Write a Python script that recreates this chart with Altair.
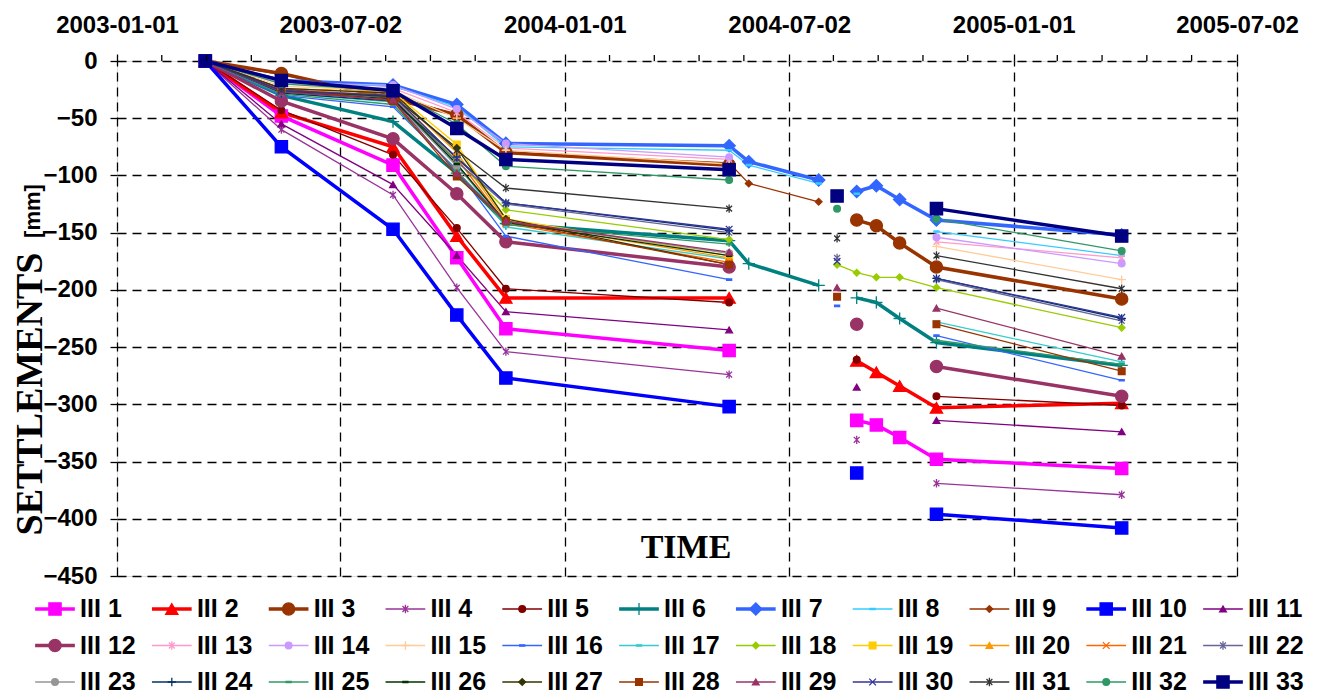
import altair as alt
import pandas as pd

N = None
# measurement dates
DATES = ["2003-03-14", "2003-05-15", "2003-08-14", "2003-10-05", "2003-11-14",
         "2004-05-14", "2004-05-30", "2004-07-26", "2004-08-10", "2004-08-26",
         "2004-09-11", "2004-09-30", "2004-10-30", "2005-03-30"]

III1 = [0, -48, -91, -172, -234, -253, N, N, N, -314, -318, -329, -348, -356]
III2 = [0, -45, -75, -153, -207, -207, N, N, N, -262, -272, -284, -303, -299]
III3 = [0, -11, -33, -47, -80, -91, N, N, N, -139, -144, -159, -180, -208]
III4 = [0, -60, -117, -198, -254, -274, N, N, N, -331, N, N, -369, -379]
III5 = [0, -43, -82, -146, -199, -211, N, N, N, -261, N, N, -293, -301]
III6 = [0, -30, -53, -98, -142, -157, -177, -196, N, -207, -211, -225, -246, -266]
III7 = [0, -17, -21, -38, -72, -74, -88, -104, N, -114, -109, -121, -139, -152]
III8 = [0, -19, -22, -40, -75, -78, -91, -107, N, -116, N, N, -149, -170]
III9 = [0, -12, -30, -47, -80, -89, -107, -123, N, N, N, N, N, N]
III10 = [0, -75, -147, -222, -277, -302, N, N, N, -360, N, N, -396, -408]
III11 = [0, -55, -108, -170, -219, -235, N, N, N, -285, N, N, -314, -324]
III12 = [0, -35, -68, -116, -158, -180, N, N, N, -230, N, N, -267, -293]
III13 = [0, -20, -24, -45, -76, -86, N, N, N, N, N, N, -158, -172]
III14 = [0, -19, -21, -42, -72, -84, N, N, N, N, N, N, -154, -177]
III15 = [0, -22, -26, -50, -78, -90, N, N, N, N, N, N, -162, -191]
III16 = [0, -30, -40, -95, -153, -191, N, N, -214, N, N, N, -240, -279]
III17 = [0, -28, -36, -90, -145, -173, N, N, N, N, N, N, -228, -263]
III18 = [0, -25, -30, -87, -130, -156, N, N, -178, -185, -189, -189, -198, -233]
III19 = [0, -24, -27, -73, -138, -170, N, N, N, N, N, N, N, N]
III20 = [0, -24, -28, -80, -140, -172, N, N, N, N, N, N, N, N]
III21 = [0, -25, -30, -85, -142, -176, N, N, N, N, N, N, N, N]
III22 = [0, -26, -32, -88, -125, -150, N, N, -172, N, N, N, -191, -227]
III23 = [0, -27, -34, -92, -140, -168, N, N, N, N, N, N, N, N]
III24 = [0, -28, -35, -84, -124, -148, N, N, N, N, N, N, -190, -225]
III25 = [0, -29, -38, -96, -143, -160, N, N, N, N, N, N, -244, -265]
III26 = [0, -27, -33, -90, -141, -170, N, N, N, N, N, N, N, N]
III27 = [0, -26, -31, -76, -138, -178, N, N, N, N, N, N, N, N]
III28 = [0, -24, -35, -101, -140, -178, N, N, -206, N, N, N, -230, -271]
III29 = [0, -27, -34, -98, -140, -167, N, N, -198, N, N, N, -216, -258]
III30 = [0, -26, -30, -85, -124, -147, N, N, -175, N, N, N, -190, -224]
III31 = [0, -24, -28, -78, -111, -129, N, N, -155, N, N, N, -170, -199]
III32 = [0, -20, -26, -55, -92, -104, N, N, -129, N, N, N, -138, -166]
III33 = [0, -17, -26, -59, -86, -95, N, N, -118, N, N, N, -129, -153]

SERIES = [III1, III2, III3, III4, III5, III6, III7, III8, III9, III10, III11,
          III12, III13, III14, III15, III16, III17, III18, III19, III20, III21, III22,
          III23, III24, III25, III26, III27, III28, III29, III30, III31, III32, III33]
NAMES = [f"III {i}" for i in range(1, 34)]

COLORS = ["#FF00FF", "#FF0000", "#993300", "#993399", "#800000", "#008080", "#3366FF",
          "#33CCFF", "#993300", "#0000FF", "#800080", "#993366", "#FF99CC", "#CC99FF",
          "#FFCC99", "#3366FF", "#33CCCC", "#99CC00", "#FFCC00", "#FF9900", "#FF6600",
          "#666699", "#969696", "#003366", "#339966", "#003300", "#333300", "#993300",
          "#993366", "#333399", "#333333", "#2E9966", "#000080"]

SQ = "square"; TR = "triangle-up"; CI = "circle"; DI = "diamond"
AST = "M-0.7,-0.7L0.7,0.7M-0.7,0.7L0.7,-0.7M0,-1L0,1"
XX = "M-0.8,-0.8L0.8,0.8M-0.8,0.8L0.8,-0.8"
PL = "M-1,0L1,0M0,-1L0,1"
DA = "M-0.75,-0.2L0.75,-0.2L0.75,0.2L-0.75,0.2Z"
SHAPES = [SQ, TR, CI, AST, CI, PL, DI, DA, DI, SQ, TR, CI, AST, CI, PL, DA, DA, DI,
          SQ, TR, XX, AST, CI, PL, DA, DA, DI, SQ, TR, XX, AST, CI, SQ]
THICK = {"III 1", "III 2", "III 3", "III 6", "III 7", "III 10", "III 12", "III 33"}


def marker_size(name, shp):
    if name in THICK:
        return 150
    return 70 if shp in (AST, XX, PL) else 45


rows = []
for i, (name, vals) in enumerate(zip(NAMES, SERIES)):
    seg, prev = 0, None
    for j, v in enumerate(vals):
        if v is None:
            continue
        if prev is not None and j - prev > 1:
            seg += 1
        prev = j
        rows.append({"series": name, "key": f"{i:02d}-{seg}", "date": pd.Timestamp(DATES[j]),
                     "value": v, "lw": 3.5 if name in THICK else 1.3,
                     "msize": marker_size(name, SHAPES[i])})
df = pd.DataFrame(rows)

leg = []
for i, name in enumerate(NAMES):
    leg.append({"series": name, "col": i % 11, "row": i // 11,
                "lx0": i % 11 - 0.17, "lx1": i % 11 + 0.17, "ltx": i % 11 + 0.215,
                "lw": 3.5 if name in THICK else 1.3,
                "msize": marker_size(name, SHAPES[i])})
dleg = pd.DataFrame(leg)

start = pd.Timestamp("2003-01-01")
minor = pd.DataFrame({"date": [start + pd.Timedelta(days=36.5 * k) for k in range(1, 25) if k % 5]})

TICKS = [alt.DateTime(year=2003, month=1, date=1), alt.DateTime(year=2003, month=7, date=2),
         alt.DateTime(year=2004, month=1, date=1), alt.DateTime(year=2004, month=7, date=2),
         alt.DateTime(year=2005, month=1, date=1), alt.DateTime(year=2005, month=7, date=2)]

xscale = alt.Scale(domain=[TICKS[0], TICKS[-1]])
yscale = alt.Scale(domain=[-450, 0], nice=False, zero=False)
cscale = alt.Scale(domain=NAMES, range=COLORS)
sscale = alt.Scale(domain=NAMES, range=SHAPES)

FONT = "Liberation Sans"
xaxis = alt.Axis(orient="top", values=TICKS, format="%Y-%m-%d", title=None,
                 labelFont=FONT, labelFontWeight="bold", labelFontSize=24, labelColor="black",
                 labelBaseline="alphabetic", labelPadding=22, labelFlush=False, labelOverlap=False,
                 tickColor="black", tickSize=7, tickWidth=1.3, domain=False,
                 grid=True, gridColor="black", gridDash=[9, 6], gridWidth=1.3)
yaxis = alt.Axis(values=list(range(-450, 1, 50)), title=None,
                 labelFont=FONT, labelFontWeight="bold", labelFontSize=24, labelColor="black",
                 labelPadding=13, tickColor="black", tickSize=7, tickWidth=1.3, domain=False,
                 grid=True, gridColor="black", gridDash=[9, 6], gridWidth=1.3)

lines = alt.Chart(df).mark_line().encode(
    x=alt.X("date:T", scale=xscale, axis=xaxis),
    y=alt.Y("value:Q", scale=yscale, axis=yaxis),
    detail="key:N",
    stroke=alt.Stroke("series:N", scale=cscale, legend=None),
    strokeWidth=alt.StrokeWidth("lw:Q", scale=None),
)
points = alt.Chart(df).mark_point(filled=True, opacity=1, strokeWidth=1.3).encode(
    x=alt.X("date:T", scale=xscale),
    y=alt.Y("value:Q", scale=yscale),
    fill=alt.Fill("series:N", scale=cscale, legend=None),
    stroke=alt.Stroke("series:N", scale=cscale, legend=None),
    shape=alt.Shape("series:N", scale=sscale, legend=None),
    size=alt.Size("msize:Q", scale=None),
)
minor_ticks = alt.Chart(minor).mark_rule(color="black", strokeWidth=1.3).encode(
    x=alt.X("date:T", scale=xscale), y=alt.value(-6), y2=alt.value(0))

ytitle = alt.Chart(pd.DataFrame({"t": ["SETTLEMENTS"]})).mark_text(
    angle=270, font="Liberation Serif", fontWeight="bold", fontSize=38, color="black",
    align="center", baseline="middle").encode(x=alt.value(-86), y=alt.value(333), text="t:N")
ytitle2 = alt.Chart(pd.DataFrame({"t": ["[mm]"]})).mark_text(
    angle=270, font=FONT, fontWeight="bold", fontSize=22, color="black",
    align="center", baseline="middle").encode(x=alt.value(-84), y=alt.value(150), text="t:N")
xtitle = alt.Chart(pd.DataFrame({"t": ["TIME"]})).mark_text(
    font="Liberation Serif", fontWeight="bold", fontSize=34, color="black",
    align="center", baseline="middle").encode(x=alt.value(569), y=alt.value(487), text="t:N")

main = alt.layer(lines, points, minor_ticks, ytitle, ytitle2, xtitle)

lxs = alt.Scale(domain=[0, 10], range=[-62, 1106], nice=False, zero=False)
lys = alt.Scale(domain=[0, 2], range=[548, 621], nice=False, zero=False)
leg_rules = alt.Chart(dleg).mark_rule().encode(
    x=alt.X("lx0:Q", scale=lxs, axis=None), x2="lx1:Q",
    y=alt.Y("row:Q", scale=lys, axis=None),
    stroke=alt.Stroke("series:N", scale=cscale, legend=None),
    strokeWidth=alt.StrokeWidth("lw:Q", scale=None))
leg_pts = alt.Chart(dleg).mark_point(filled=True, opacity=1, strokeWidth=1.3).encode(
    x=alt.X("col:Q", scale=lxs, axis=None),
    y=alt.Y("row:Q", scale=lys, axis=None),
    fill=alt.Fill("series:N", scale=cscale, legend=None),
    stroke=alt.Stroke("series:N", scale=cscale, legend=None),
    shape=alt.Shape("series:N", scale=sscale, legend=None),
    size=alt.Size("msize:Q", scale=None))
leg_txt = alt.Chart(dleg).mark_text(align="left", baseline="middle", font=FONT, fontWeight="bold",
                                    fontSize=25, color="black").encode(
    x=alt.X("ltx:Q", scale=lxs, axis=None),
    y=alt.Y("row:Q", scale=lys, axis=None),
    text="series:N")
legend = alt.layer(leg_rules, leg_pts, leg_txt)

chart = alt.layer(main, legend).resolve_scale(x="independent", y="independent").properties(
    width=1120, height=515, padding={"left": 4, "top": 5, "right": 5, "bottom": 5}
).configure_view(stroke="black", strokeWidth=1.5).configure(background="white")

chart.save("out.html", embed_options={"renderer": "svg", "actions": False})
